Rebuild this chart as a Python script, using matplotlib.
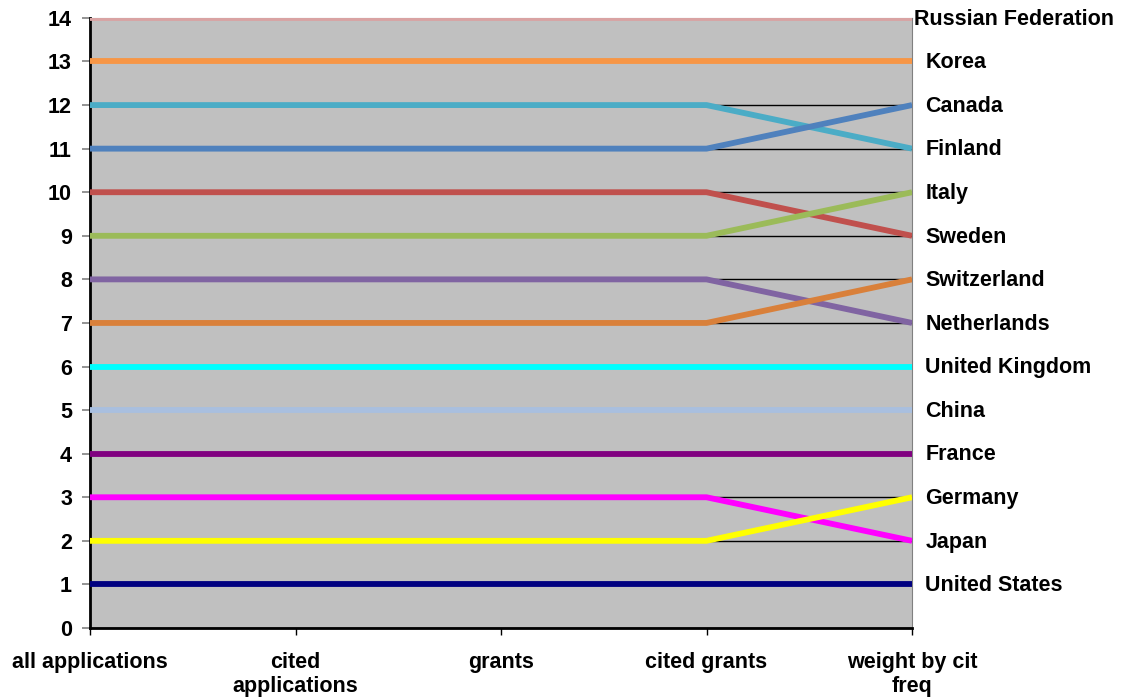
import matplotlib.pyplot as plt

plt.rcParams['font.family'] = ['Liberation Sans', 'DejaVu Sans']

categories = ["all applications", "cited\napplications", "grants", "cited grants", "weight by cit\nfreq"]

countries = ["Russian Federation", "Korea", "Finland", "Canada", "Sweden", "Italy",
             "Netherlands", "Switzerland", "United Kingdom", "China", "France",
             "Japan", "Germany", "United States"]
ranks = {
    "Russian Federation": [14, 14, 14, 14, 14],
    "Korea": [13, 13, 13, 13, 13],
    "Finland": [12, 12, 12, 12, 11],
    "Canada": [11, 11, 11, 11, 12],
    "Sweden": [10, 10, 10, 10, 9],
    "Italy": [9, 9, 9, 9, 10],
    "Netherlands": [8, 8, 8, 8, 7],
    "Switzerland": [7, 7, 7, 7, 8],
    "United Kingdom": [6, 6, 6, 6, 6],
    "China": [5, 5, 5, 5, 5],
    "France": [4, 4, 4, 4, 4],
    "Japan": [3, 3, 3, 3, 2],
    "Germany": [2, 2, 2, 2, 3],
    "United States": [1, 1, 1, 1, 1],
}
colors = {
    "Russian Federation": "#d9a3a3",
    "Korea": "#f79646",
    "Finland": "#4bacc6",
    "Canada": "#4f81bd",
    "Sweden": "#c0504d",
    "Italy": "#9bbb59",
    "Netherlands": "#8064a2",
    "Switzerland": "#d9803a",
    "United Kingdom": "#00ffff",
    "China": "#a9bfdf",
    "France": "#800080",
    "Japan": "#ff00ff",
    "Germany": "#ffff00",
    "United States": "#000080",
}

fig = plt.figure(figsize=(11.25, 6.97), dpi=100)
ax = fig.add_axes([0.08, 0.099, 0.7307, 0.8753])
ax.set_facecolor("#c0c0c0")

x = list(range(len(categories)))
for c in countries:
    ax.plot(x, ranks[c], color=colors[c], lw=4.2, solid_capstyle="butt", zorder=3)
    dx = 0.01 if c == "Russian Federation" else 0.065
    ax.text(x[-1] + dx, ranks[c][-1] - 0.03, c, fontsize=15.5, fontweight="bold",
            va="center", ha="left", clip_on=False)

ax.set_xlim(0, len(categories) - 1)
ax.set_ylim(0, 14)
ax.set_yticks(range(0, 15))
ax.set_xticks(x)
ax.set_xticklabels(categories, fontsize=15.5, fontweight="bold", linespacing=1.2)
ax.tick_params(axis="y", labelsize=15.5, direction="out", length=6, pad=7,
               color="#808080", width=1.2)
for lab in ax.get_yticklabels():
    lab.set_fontweight("bold")
ax.tick_params(axis="x", direction="out", length=5, pad=12, width=1)
ax.grid(axis="y", color="black", lw=1, zorder=1)
ax.set_axisbelow(True)

ax.spines["left"].set_linewidth(2)
ax.spines["bottom"].set_linewidth(2)
ax.spines["right"].set_color("#808080")
ax.spines["top"].set_color("#808080")

fig.savefig("out.png", dpi=100)
